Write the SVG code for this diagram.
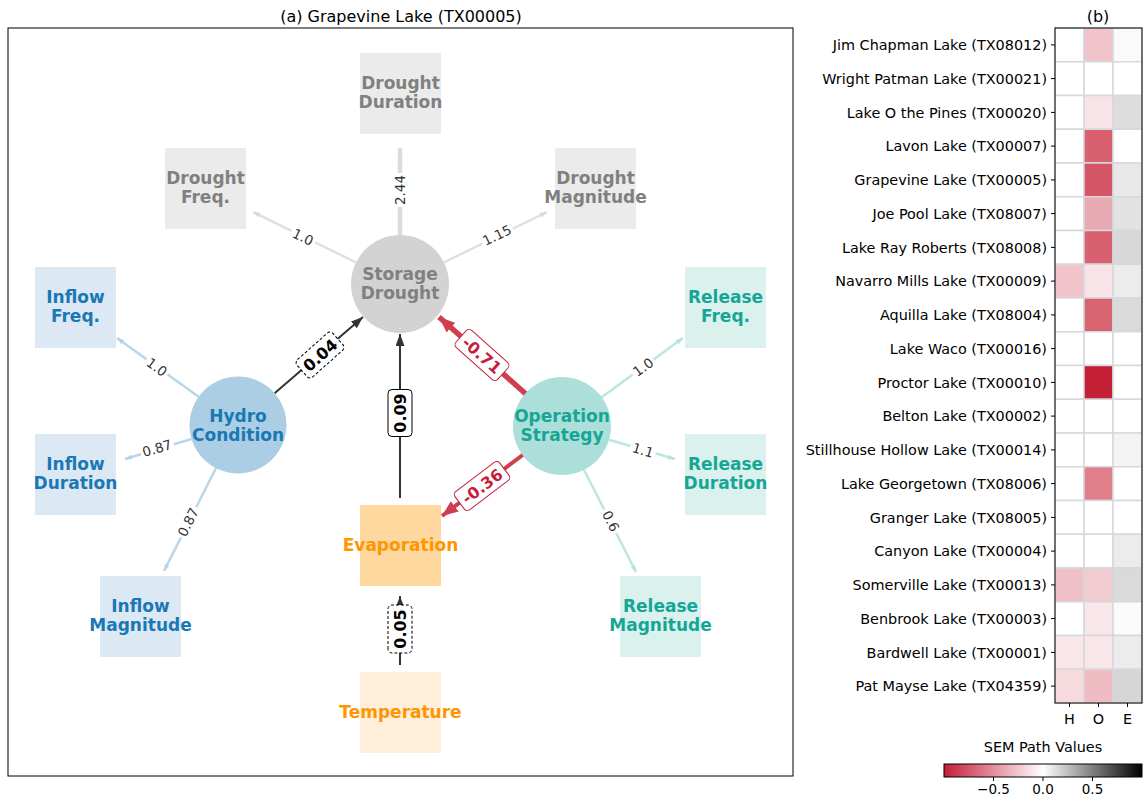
<svg xmlns="http://www.w3.org/2000/svg" width="1144" height="796" viewBox="0 0 1144 796">
<defs>
<style>
text{font-family:"DejaVu Sans","Liberation Sans",sans-serif}
.nl{font-size:17px;font-weight:bold;text-anchor:middle}
.el{font-size:13.5px;fill:#333;text-anchor:middle}
.bl{font-size:16px;font-weight:bold;text-anchor:middle}
.tk{font-size:14.4px;fill:#000;text-anchor:end}
.lg{stroke-width:2.5;fill:none}
.cell{stroke:#d5d8dc;stroke-width:1.5}
</style>
<marker id="aBlk" viewBox="0 0 12 9" refX="12" refY="4.5" markerWidth="12" markerHeight="9" markerUnits="userSpaceOnUse" orient="auto"><path d="M0,0 L12,4.5 L0,9 z" fill="#333"/></marker>
<marker id="aRed" viewBox="0 0 16 13" refX="16" refY="6.5" markerWidth="16" markerHeight="13" markerUnits="userSpaceOnUse" orient="auto"><path d="M0,0 L16,6.5 L0,13 z" fill="#cf3f4f"/></marker>
<marker id="aGry" viewBox="0 0 7 5" refX="7" refY="2.5" markerWidth="7" markerHeight="5" markerUnits="userSpaceOnUse" orient="auto"><path d="M0,0 L7,2.5 L0,5 z" fill="#d8d8d8"/></marker>
<marker id="aBlu" viewBox="0 0 7 5" refX="7" refY="2.5" markerWidth="7" markerHeight="5" markerUnits="userSpaceOnUse" orient="auto"><path d="M0,0 L7,2.5 L0,5 z" fill="#b3d3e8"/></marker>
<marker id="aTea" viewBox="0 0 7 5" refX="7" refY="2.5" markerWidth="7" markerHeight="5" markerUnits="userSpaceOnUse" orient="auto"><path d="M0,0 L7,2.5 L0,5 z" fill="#b5e3dd"/></marker>
<linearGradient id="cb" x1="0" y1="0" x2="1" y2="0">
<stop offset="0" stop-color="#c41e3a"/><stop offset="0.5" stop-color="#ffffff"/><stop offset="1" stop-color="#000000"/>
</linearGradient>
</defs>
<rect width="1144" height="796" fill="#fff"/>

<!-- Panel (a) -->
<text x="401" y="22" font-size="16" text-anchor="middle">(a) Grapevine Lake (TX00005)</text>
<rect x="8" y="28" width="785" height="748" fill="none" stroke="#000" stroke-width="1"/>

<g id="connectors">
<line x1="400" y1="235" x2="400" y2="150" stroke="#dcdcdc" stroke-width="4.5" stroke-linecap="round" marker-end="url(#aGry)"/>
<line class="lg" x1="356" y1="262.4" x2="253" y2="212" stroke="#e0e0e0" marker-end="url(#aGry)"/>
<line class="lg" x1="444" y1="262.4" x2="547" y2="212" stroke="#e0e0e0" marker-end="url(#aGry)"/>
<line class="lg" x1="198.6" y1="396.7" x2="117" y2="338" stroke="#b9d7ea" marker-end="url(#aBlu)"/>
<line class="lg" x1="191.5" y1="439" x2="125" y2="459" stroke="#b9d7ea" marker-end="url(#aBlu)"/>
<line class="lg" x1="216" y1="468" x2="164" y2="571" stroke="#b9d7ea" marker-end="url(#aBlu)"/>
<line class="lg" x1="601.6" y1="397.2" x2="683" y2="338" stroke="#bde6e1" marker-end="url(#aTea)"/>
<line class="lg" x1="609" y1="439.7" x2="675" y2="459" stroke="#bde6e1" marker-end="url(#aTea)"/>
<line class="lg" x1="584" y1="469.7" x2="636" y2="572" stroke="#bde6e1" marker-end="url(#aTea)"/>
<g transform="translate(400,190) rotate(-90)"><rect x="-17" y="-9" width="34" height="18" fill="#fff"/><text class="el" y="5">2.44</text></g>
<g transform="translate(303,237) rotate(25.7)"><rect x="-13" y="-9" width="26" height="18" fill="#fff"/><text class="el" y="5">1.0</text></g>
<g transform="translate(497,235) rotate(-25.7)"><rect x="-17" y="-9" width="34" height="18" fill="#fff"/><text class="el" y="5">1.15</text></g>
<g transform="translate(157,367) rotate(35.7)"><rect x="-13" y="-9" width="26" height="18" fill="#fff"/><text class="el" y="5">1.0</text></g>
<g transform="translate(157,448) rotate(-16.7)"><rect x="-17" y="-9" width="34" height="18" fill="#fff"/><text class="el" y="5">0.87</text></g>
<g transform="translate(188,522) rotate(-63.1)"><rect x="-17" y="-9" width="34" height="18" fill="#fff"/><text class="el" y="5">0.87</text></g>
<g transform="translate(643,367) rotate(-36)"><rect x="-13" y="-9" width="26" height="18" fill="#fff"/><text class="el" y="5">1.0</text></g>
<g transform="translate(643,450) rotate(16.3)"><rect x="-13" y="-9" width="26" height="18" fill="#fff"/><text class="el" y="5">1.1</text></g>
<g transform="translate(611,521) rotate(63.1)"><rect x="-13" y="-9" width="26" height="18" fill="#fff"/><text class="el" y="5">0.6</text></g>
<line x1="274.6" y1="393.2" x2="363" y2="317" stroke="#333" stroke-width="2" marker-end="url(#aBlk)"/>
<line x1="400" y1="498" x2="400" y2="334" stroke="#333" stroke-width="2" marker-end="url(#aBlk)"/>
<line x1="400" y1="665" x2="400" y2="596" stroke="#333" stroke-width="2" marker-end="url(#aBlk)"/>
<line x1="527" y1="395" x2="439" y2="317" stroke="#cf3f4f" stroke-width="5.5" marker-end="url(#aRed)"/>
<line x1="524" y1="454" x2="442" y2="516" stroke="#cf3f4f" stroke-width="4" marker-end="url(#aRed)"/>
<g transform="translate(320,355) rotate(-41.7)"><rect x="-24" y="-11.5" width="48" height="23" rx="4" fill="#fff" stroke="#000" stroke-dasharray="3,2"/><text class="bl" y="6">0.04</text></g>
<g transform="translate(400,413) rotate(-90)"><rect x="-23.5" y="-12" width="47" height="24" rx="4" fill="#fff" stroke="#000"/><text class="bl" y="6">0.09</text></g>
<g transform="translate(400,629) rotate(-90)"><rect x="-24" y="-12" width="48" height="24" rx="4" fill="#fff" stroke="#000" stroke-dasharray="3,2"/><text class="bl" y="6">0.05</text></g>
<g transform="translate(482,355) rotate(41.6)"><rect x="-28" y="-11.5" width="56" height="23" rx="4" fill="#fff" stroke="#c41e3a"/><text class="bl" y="6" fill="#c41e3a">-0.71</text></g>
<g transform="translate(482,486) rotate(-37.1)"><rect x="-28" y="-11.5" width="56" height="23" rx="4" fill="#fff" stroke="#c41e3a"/><text class="bl" y="6" fill="#c41e3a">-0.36</text></g>
</g>

<g id="storage-drought"><circle cx="400" cy="284" r="49" fill="#d3d3d3"/><text class="nl" fill="#808080" x="400" y="280">Storage</text><text class="nl" fill="#808080" x="400" y="299">Drought</text></g>
<g id="drought-duration"><rect x="360" y="53" width="81" height="81" fill="#ebebeb"/><text class="nl" fill="#808080" x="400.5" y="89">Drought</text><text class="nl" fill="#808080" x="400.5" y="108">Duration</text></g>
<g id="drought-freq"><rect x="165" y="148" width="81" height="81" fill="#ebebeb"/><text class="nl" fill="#808080" x="205.5" y="184">Drought</text><text class="nl" fill="#808080" x="205.5" y="203">Freq.</text></g>
<g id="drought-magnitude"><rect x="555" y="148" width="81" height="81" fill="#ebebeb"/><text class="nl" fill="#808080" x="595.5" y="184">Drought</text><text class="nl" fill="#808080" x="595.5" y="203">Magnitude</text></g>

<g id="hydro-condition"><circle cx="238" cy="425" r="48.5" fill="#abcee4"/><text class="nl" fill="#1a78b4" x="238" y="422">Hydro</text><text class="nl" fill="#1a78b4" x="238" y="441">Condition</text></g>
<g id="inflow-freq"><rect x="35" y="267" width="81" height="81" fill="#dce9f4"/><text class="nl" fill="#1a78b4" x="75.5" y="303">Inflow</text><text class="nl" fill="#1a78b4" x="75.5" y="322">Freq.</text></g>
<g id="inflow-duration"><rect x="35" y="434" width="81" height="81" fill="#dce9f4"/><text class="nl" fill="#1a78b4" x="75.5" y="470">Inflow</text><text class="nl" fill="#1a78b4" x="75.5" y="489">Duration</text></g>
<g id="inflow-magnitude"><rect x="100" y="576" width="81" height="81" fill="#dce9f4"/><text class="nl" fill="#1a78b4" x="140.5" y="612">Inflow</text><text class="nl" fill="#1a78b4" x="140.5" y="631">Magnitude</text></g>

<g id="operation-strategy"><circle cx="562" cy="426" r="49" fill="#acdfd9"/><text class="nl" fill="#15a696" x="562" y="422">Operation</text><text class="nl" fill="#15a696" x="562" y="441">Strategy</text></g>
<g id="release-freq"><rect x="685" y="267" width="81" height="81" fill="#dbf1ee"/><text class="nl" fill="#15a696" x="725.5" y="303">Release</text><text class="nl" fill="#15a696" x="725.5" y="322">Freq.</text></g>
<g id="release-duration"><rect x="685" y="434" width="81" height="81" fill="#dbf1ee"/><text class="nl" fill="#15a696" x="725.5" y="470">Release</text><text class="nl" fill="#15a696" x="725.5" y="489">Duration</text></g>
<g id="release-magnitude"><rect x="620" y="576" width="81" height="81" fill="#dbf1ee"/><text class="nl" fill="#15a696" x="660.5" y="612">Release</text><text class="nl" fill="#15a696" x="660.5" y="631">Magnitude</text></g>

<g id="evaporation"><rect x="360" y="505" width="81" height="81" fill="#ffd8a0"/><text class="nl" fill="#fd9600" x="400.5" y="551">Evaporation</text></g>
<g id="temperature"><rect x="360" y="672" width="81" height="81" fill="#ffeed9"/><text class="nl" fill="#fd9600" x="400.5" y="718">Temperature</text></g>

<g id="heatmap">
<text x="1098" y="22" font-size="16" text-anchor="middle">(b)</text>
<g class="cell">
<rect x="1055" y="28" width="29" height="33.75" fill="#fff"/><rect x="1084" y="28" width="29" height="33.75" fill="#f0c4ca"/><rect x="1113" y="28" width="29" height="33.75" fill="#fafafa"/>
<rect x="1055" y="61.75" width="29" height="33.75" fill="#fff"/><rect x="1084" y="61.75" width="29" height="33.75" fill="#fff"/><rect x="1113" y="61.75" width="29" height="33.75" fill="#fff"/>
<rect x="1055" y="95.5" width="29" height="33.75" fill="#fff"/><rect x="1084" y="95.5" width="29" height="33.75" fill="#f8e4e6"/><rect x="1113" y="95.5" width="29" height="33.75" fill="#dddddd"/>
<rect x="1055" y="129.25" width="29" height="33.75" fill="#fff"/><rect x="1084" y="129.25" width="29" height="33.75" fill="#d9606f"/><rect x="1113" y="129.25" width="29" height="33.75" fill="#fff"/>
<rect x="1055" y="163" width="29" height="33.75" fill="#fff"/><rect x="1084" y="163" width="29" height="33.75" fill="#d45566"/><rect x="1113" y="163" width="29" height="33.75" fill="#e8e8e8"/>
<rect x="1055" y="196.75" width="29" height="33.75" fill="#fff"/><rect x="1084" y="196.75" width="29" height="33.75" fill="#e8aab2"/><rect x="1113" y="196.75" width="29" height="33.75" fill="#e2e2e2"/>
<rect x="1055" y="230.5" width="29" height="33.75" fill="#fff"/><rect x="1084" y="230.5" width="29" height="33.75" fill="#d9606f"/><rect x="1113" y="230.5" width="29" height="33.75" fill="#d8d8d8"/>
<rect x="1055" y="264.25" width="29" height="33.75" fill="#f2c4cc"/><rect x="1084" y="264.25" width="29" height="33.75" fill="#f8e4e6"/><rect x="1113" y="264.25" width="29" height="33.75" fill="#ececec"/>
<rect x="1055" y="298" width="29" height="33.75" fill="#fff"/><rect x="1084" y="298" width="29" height="33.75" fill="#d8646f"/><rect x="1113" y="298" width="29" height="33.75" fill="#dadada"/>
<rect x="1055" y="331.75" width="29" height="33.75" fill="#fff"/><rect x="1084" y="331.75" width="29" height="33.75" fill="#fff"/><rect x="1113" y="331.75" width="29" height="33.75" fill="#fff"/>
<rect x="1055" y="365.5" width="29" height="33.75" fill="#fff"/><rect x="1084" y="365.5" width="29" height="33.75" fill="#c41f34"/><rect x="1113" y="365.5" width="29" height="33.75" fill="#fff"/>
<rect x="1055" y="399.25" width="29" height="33.75" fill="#fff"/><rect x="1084" y="399.25" width="29" height="33.75" fill="#fff"/><rect x="1113" y="399.25" width="29" height="33.75" fill="#fff"/>
<rect x="1055" y="433" width="29" height="33.75" fill="#fff"/><rect x="1084" y="433" width="29" height="33.75" fill="#fff"/><rect x="1113" y="433" width="29" height="33.75" fill="#f3f3f3"/>
<rect x="1055" y="466.75" width="29" height="33.75" fill="#fff"/><rect x="1084" y="466.75" width="29" height="33.75" fill="#df7f89"/><rect x="1113" y="466.75" width="29" height="33.75" fill="#fff"/>
<rect x="1055" y="500.5" width="29" height="33.75" fill="#fff"/><rect x="1084" y="500.5" width="29" height="33.75" fill="#fff"/><rect x="1113" y="500.5" width="29" height="33.75" fill="#fff"/>
<rect x="1055" y="534.25" width="29" height="33.75" fill="#fff"/><rect x="1084" y="534.25" width="29" height="33.75" fill="#fff"/><rect x="1113" y="534.25" width="29" height="33.75" fill="#ececec"/>
<rect x="1055" y="568" width="29" height="33.75" fill="#f0c0c8"/><rect x="1084" y="568" width="29" height="33.75" fill="#f0ccd1"/><rect x="1113" y="568" width="29" height="33.75" fill="#dadada"/>
<rect x="1055" y="601.75" width="29" height="33.75" fill="#fff"/><rect x="1084" y="601.75" width="29" height="33.75" fill="#f9e6e8"/><rect x="1113" y="601.75" width="29" height="33.75" fill="#fafafa"/>
<rect x="1055" y="635.5" width="29" height="33.75" fill="#f8e6e8"/><rect x="1084" y="635.5" width="29" height="33.75" fill="#f8e6e8"/><rect x="1113" y="635.5" width="29" height="33.75" fill="#ececec"/>
<rect x="1055" y="669.25" width="29" height="33.75" fill="#f6dadd"/><rect x="1084" y="669.25" width="29" height="33.75" fill="#efbcc3"/><rect x="1113" y="669.25" width="29" height="33.75" fill="#d6d6d6"/>
</g>
<rect x="1055" y="28" width="87" height="675" fill="none" stroke="#000" stroke-width="1"/>
<g stroke="#000" stroke-width="1">
<line x1="1051" y1="44.9" x2="1055" y2="44.9"/><line x1="1051" y1="78.6" x2="1055" y2="78.6"/><line x1="1051" y1="112.4" x2="1055" y2="112.4"/><line x1="1051" y1="146.1" x2="1055" y2="146.1"/><line x1="1051" y1="179.9" x2="1055" y2="179.9"/><line x1="1051" y1="213.6" x2="1055" y2="213.6"/><line x1="1051" y1="247.4" x2="1055" y2="247.4"/><line x1="1051" y1="281.1" x2="1055" y2="281.1"/><line x1="1051" y1="314.9" x2="1055" y2="314.9"/><line x1="1051" y1="348.6" x2="1055" y2="348.6"/><line x1="1051" y1="382.4" x2="1055" y2="382.4"/><line x1="1051" y1="416.1" x2="1055" y2="416.1"/><line x1="1051" y1="449.9" x2="1055" y2="449.9"/><line x1="1051" y1="483.6" x2="1055" y2="483.6"/><line x1="1051" y1="517.4" x2="1055" y2="517.4"/><line x1="1051" y1="551.1" x2="1055" y2="551.1"/><line x1="1051" y1="584.9" x2="1055" y2="584.9"/><line x1="1051" y1="618.6" x2="1055" y2="618.6"/><line x1="1051" y1="652.4" x2="1055" y2="652.4"/><line x1="1051" y1="686.1" x2="1055" y2="686.1"/>
<line x1="1069.5" y1="703" x2="1069.5" y2="707"/><line x1="1098.5" y1="703" x2="1098.5" y2="707"/><line x1="1127.5" y1="703" x2="1127.5" y2="707"/>
</g>
<g class="tk">
<text x="1047" y="50">Jim Chapman Lake (TX08012)</text>
<text x="1047" y="83.7">Wright Patman Lake (TX00021)</text>
<text x="1047" y="117.5">Lake O the Pines (TX00020)</text>
<text x="1047" y="151.2">Lavon Lake (TX00007)</text>
<text x="1047" y="185">Grapevine Lake (TX00005)</text>
<text x="1047" y="218.7">Joe Pool Lake (TX08007)</text>
<text x="1047" y="252.5">Lake Ray Roberts (TX08008)</text>
<text x="1047" y="286.2">Navarro Mills Lake (TX00009)</text>
<text x="1047" y="320">Aquilla Lake (TX08004)</text>
<text x="1047" y="353.7">Lake Waco (TX00016)</text>
<text x="1047" y="387.5">Proctor Lake (TX00010)</text>
<text x="1047" y="421.2">Belton Lake (TX00002)</text>
<text x="1047" y="455">Stillhouse Hollow Lake (TX00014)</text>
<text x="1047" y="488.7">Lake Georgetown (TX08006)</text>
<text x="1047" y="522.5">Granger Lake (TX08005)</text>
<text x="1047" y="556.2">Canyon Lake (TX00004)</text>
<text x="1047" y="590">Somerville Lake (TX00013)</text>
<text x="1047" y="623.7">Benbrook Lake (TX00003)</text>
<text x="1047" y="657.5">Bardwell Lake (TX00001)</text>
<text x="1047" y="691.2">Pat Mayse Lake (TX04359)</text>
</g>
<g font-size="14.4" text-anchor="middle">
<text x="1069.5" y="724">H</text><text x="1098.5" y="724">O</text><text x="1127.5" y="724">E</text>
</g>
</g>

<g id="colorbar">
<text x="1043" y="752" font-size="14.4" text-anchor="middle">SEM Path Values</text>
<rect x="944" y="764" width="198" height="13" fill="url(#cb)" stroke="#000" stroke-width="1"/>
<g stroke="#000" stroke-width="1"><line x1="993.5" y1="777" x2="993.5" y2="781"/><line x1="1043" y1="777" x2="1043" y2="781"/><line x1="1092.5" y1="777" x2="1092.5" y2="781"/></g>
<g font-size="13.5" text-anchor="middle"><text x="993.5" y="794">−0.5</text><text x="1043" y="794">0.0</text><text x="1092.5" y="794">0.5</text></g>
</g>
</svg>
